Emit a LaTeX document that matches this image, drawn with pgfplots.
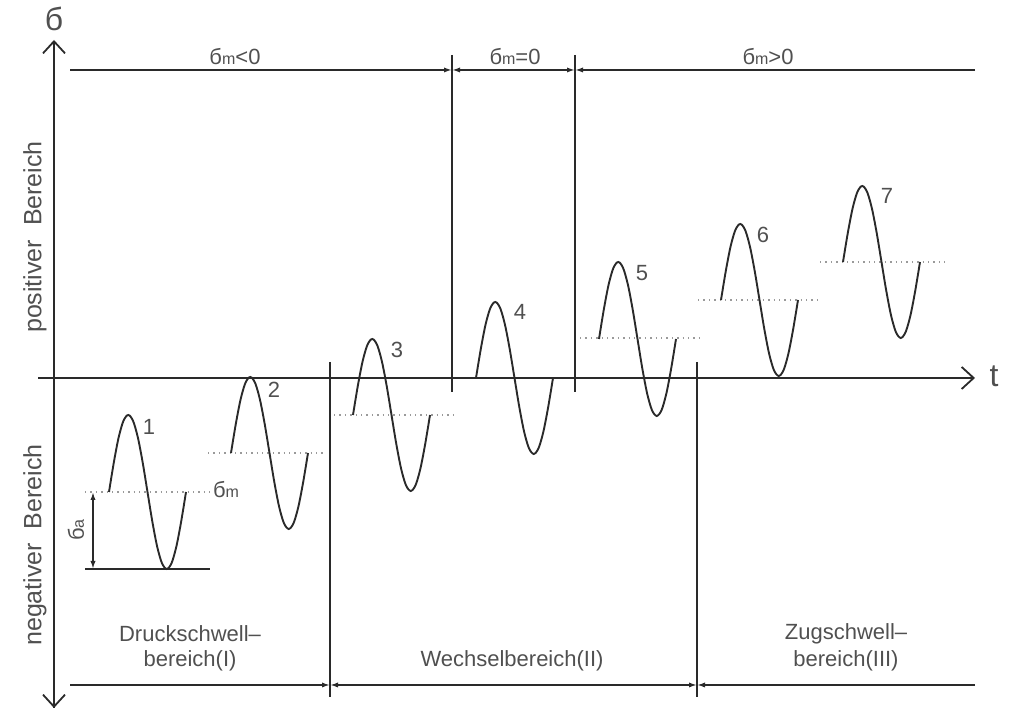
\documentclass[border=0pt]{standalone}
\usepackage{pgfplots}
\pgfplotsset{compat=1.18}
\usepackage{pgfplotstable}
\usepackage{fontspec}
\setmainfont{Liberation Sans}
\usetikzlibrary{arrows.meta}
\definecolor{ln}{HTML}{2A2A2A}
\definecolor{tx}{HTML}{505050}
\definecolor{dt}{HTML}{9A9A9A}

% one cycle of the load, normalised: u = fraction of the period, s = (sigma - sigma_m)/sigma_a
\pgfplotstableread{
u s
0.0000 0.0000
0.0625 0.3827
0.1250 0.7071
0.1875 0.9239
0.2500 1.0000
0.3125 0.9239
0.3750 0.7071
0.4375 0.3827
0.5000 0.0000
0.5625 -0.3827
0.6250 -0.7071
0.6875 -0.9239
0.7500 -1.0000
0.8125 -0.9239
0.8750 -0.7071
0.9375 -0.3827
1.0000 0.0000
}\shape

\newcommand{\bm}{б{\fontsize{8}{9}\selectfont m}}
\tikzset{
  dimarr/.style={-{Latex[length=4pt,width=2.6pt]}},
  wave/.style={ln, line width=0.95pt, smooth},
  mline/.style={dt, line width=0.7pt, dotted},
  txt/.style={tx, font=\fontsize{11}{13}\selectfont},
}

\begin{document}
\begin{tikzpicture}
\begin{axis}[
  width=506pt, height=357.5pt, scale only axis,
  xmin=0, xmax=1012, ymin=-715, ymax=0,
  hide axis, clip=false,
]
\path (rel axis cs:0,0) rectangle (rel axis cs:1,1);

% mean lines (dotted)
\addplot[mline] coordinates {(85,-492) (210,-492)};
\addplot[mline] coordinates {(208,-453) (326,-453)};
\addplot[mline] coordinates {(334,-415) (455,-415)};
\addplot[mline] coordinates {(455,-378) (570,-378)};
\addplot[mline] coordinates {(580,-338) (700,-338)};
\addplot[mline] coordinates {(698,-300) (822,-300)};
\addplot[mline] coordinates {(820,-262) (945,-262)};

% axes
\addplot[ln, line width=0.9pt, -{Straight Barb[length=6pt,width=11pt]}] coordinates {(54,-708) (54,-40)};
\addplot[ln, line width=0.9pt, -{Straight Barb[length=6pt,width=11pt]}] coordinates {(54,-378) (54,-708)};
\addplot[ln, line width=0.9pt, -{Straight Barb[length=6pt,width=11pt]}] coordinates {(38,-378) (975,-378)};
\node[tx, font=\fontsize{16}{18}\selectfont] at (axis cs:54,-19) {б};
\node[tx, font=\fontsize{16}{18}\selectfont] at (axis cs:994,-376) {t};

% region boundaries
\addplot[ln, line width=0.9pt] coordinates {(452,-55) (452,-392)};
\addplot[ln, line width=0.9pt] coordinates {(575,-55) (575,-392)};
\addplot[ln, line width=0.9pt] coordinates {(330,-362) (330,-697)};
\addplot[ln, line width=0.9pt] coordinates {(697,-362) (697,-697)};

% top dimension line
\addplot[ln, line width=0.9pt, dimarr] coordinates {(70,-70) (452,-70)};
\addplot[ln, line width=0.9pt, dimarr] coordinates {(513,-70) (452,-70)};
\addplot[ln, line width=0.9pt, dimarr] coordinates {(513,-70) (575,-70)};
\addplot[ln, line width=0.9pt, dimarr] coordinates {(975,-70) (575,-70)};
\node[txt] at (axis cs:235,-57) {\bm{}<0};
\node[txt] at (axis cs:515,-57) {\bm{}=0};
\node[txt] at (axis cs:768,-57) {\bm{}>0};

% bottom dimension line
\addplot[ln, line width=0.9pt, dimarr] coordinates {(70,-685) (330,-685)};
\addplot[ln, line width=0.9pt, dimarr] coordinates {(513,-685) (330,-685)};
\addplot[ln, line width=0.9pt, dimarr] coordinates {(513,-685) (697,-685)};
\addplot[ln, line width=0.9pt, dimarr] coordinates {(975,-685) (697,-685)};
\node[txt] at (axis cs:190,-634) {Druckschwell--};
\node[txt] at (axis cs:190,-661) {bereich(I)};
\node[txt] at (axis cs:512,-661) {Wechselbereich(II)};
\node[txt] at (axis cs:846,-634) {Zugschwell--};
\node[txt] at (axis cs:846,-661) {bereich(III)};

% side labels
\node[tx, rotate=90, font=\fontsize{12.5}{14}\selectfont] at (axis cs:35,-237) {positiver\ \ Bereich};
\node[tx, rotate=90, font=\fontsize{12.5}{14}\selectfont] at (axis cs:35,-545) {negativer\ \ Bereich};

% stress cycles
\addplot[wave] table[x expr=109+77*\thisrow{u}, y expr=-492+77*\thisrow{s}] {\shape};
\addplot[wave] table[x expr=231+77*\thisrow{u}, y expr=-453+76*\thisrow{s}] {\shape};
\addplot[wave] table[x expr=353+77*\thisrow{u}, y expr=-415+76*\thisrow{s}] {\shape};
\addplot[wave] table[x expr=476+77*\thisrow{u}, y expr=-378+76*\thisrow{s}] {\shape};
\addplot[wave] table[x expr=599+77*\thisrow{u}, y expr=-339+77*\thisrow{s}] {\shape};
\addplot[wave] table[x expr=721+77*\thisrow{u}, y expr=-300+76*\thisrow{s}] {\shape};
\addplot[wave] table[x expr=843+77*\thisrow{u}, y expr=-262+76*\thisrow{s}] {\shape};

\node[txt] at (axis cs:149,-427) {1};
\node[txt] at (axis cs:274,-390) {2};
\node[txt] at (axis cs:397,-350) {3};
\node[txt] at (axis cs:520,-312) {4};
\node[txt] at (axis cs:642,-273) {5};
\node[txt] at (axis cs:763,-235) {6};
\node[txt] at (axis cs:887,-196) {7};

% sigma_m and sigma_a annotation on cycle 1
\addplot[ln, line width=0.9pt] coordinates {(85,-569) (210,-569)};
\addplot[ln, line width=0.8pt, {Latex[length=4pt,width=2.6pt]}-{Latex[length=4pt,width=2.6pt]}] coordinates {(93,-492) (93,-569)};
\node[txt] at (axis cs:226,-490) {\bm};
\node[txt, rotate=90] at (axis cs:76,-530) {б{\fontsize{8}{9}\selectfont a}};
\end{axis}
\end{tikzpicture}
\end{document}
